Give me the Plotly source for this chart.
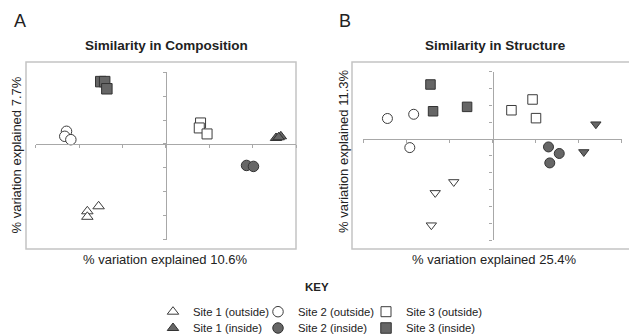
import plotly.graph_objects as go

W, H = 629, 335
FONT = "Liberation Sans, Arial, sans-serif"

# ---------------- data: Panel A (Similarity in Composition) ----------------
a_s1_out_x = [-1.81, -1.55, -1.81]
a_s1_out_y = [-2.82, -2.61, -3.05]
a_s2_out_x = [-2.29, -2.33, -2.19]
a_s2_out_y = [0.53, 0.32, 0.18]
a_s3_out_x = [0.80, 0.77, 0.95]
a_s3_out_y = [0.88, 0.67, 0.42]
a_s1_in_x = [2.54, 2.65, 2.60]
a_s1_in_y = [0.25, 0.32, 0.28]
a_s2_in_x = [1.86, 2.02]
a_s2_in_y = [-0.90, -0.94]
a_s3_in_x = [-1.50, -1.41, -1.36]
a_s3_in_y = [2.61, 2.61, 2.31]

# ---------------- data: Panel B (Similarity in Structure) ----------------
b_s1_out_x = [-0.90, -1.33, -1.42]
b_s1_out_y = [-2.55, -3.20, -5.12]
b_s2_out_x = [-2.44, -1.83, -1.92]
b_s2_out_y = [1.22, 1.47, -0.51]
b_s3_out_x = [0.44, 0.93, 1.01]
b_s3_out_y = [1.71, 2.35, 1.24]
b_s1_in_x = [2.40, 2.12]
b_s1_in_y = [0.88, -0.77]
b_s2_in_x = [1.30, 1.55, 1.33]
b_s2_in_y = [-0.47, -0.86, -1.42]
b_s3_in_x = [-1.44, -1.38, -0.59]
b_s3_in_y = [3.24, 1.65, 1.91]

series_names = ["Site 1 (outside)", "Site 2 (outside)", "Site 3 (outside)",
                "Site 1 (inside)", "Site 2 (inside)", "Site 3 (inside)"]
panel_titles = ["Similarity in Composition", "Similarity in Structure"]
x_titles = ["% variation explained 10.6%", "% variation explained 25.4%"]
y_titles = ["% variation explained 7.7%", "% variation explained 11.3%"]

# axis ranges (in ordination units)
a_xrange, a_yrange = [-3, 3], [-4, 3]
b_xrange, b_yrange = [-3, 3], [-6, 4]

OPEN = dict(color="white", line=dict(color="#3c3c3c", width=1))
FILL = dict(color="#666666", line=dict(color="#333333", width=1))

fig = go.Figure()


def add(x, y, name, symbol, style, xa, ya, size, legend=None):
    fig.add_trace(go.Scatter(
        x=x, y=y, mode="markers", name=name,
        marker=dict(symbol=symbol, size=size, **style),
        xaxis=xa, yaxis=ya, showlegend=legend is not None,
        legend=legend if legend else "legend", cliponaxis=False))


# Panel A traces (these also provide the key entries, one legend per entry)
add(a_s1_out_x, a_s1_out_y, series_names[0], "triangle-up", OPEN, "x", "y", 10, "legend")
add(a_s2_out_x, a_s2_out_y, series_names[1], "circle", OPEN, "x", "y", 10.5, "legend2")
add(a_s3_out_x, a_s3_out_y, series_names[2], "square", OPEN, "x", "y", 10, "legend3")
add(a_s1_in_x, a_s1_in_y, series_names[3], "triangle-up", FILL, "x", "y", 10, "legend4")
add(a_s2_in_x, a_s2_in_y, series_names[4], "circle", FILL, "x", "y", 10.5, "legend5")
add(a_s3_in_x, a_s3_in_y, series_names[5], "square", FILL, "x", "y", 10.5, "legend6")

# Panel B traces
add(b_s1_out_x, b_s1_out_y, series_names[0], "triangle-down", OPEN, "x2", "y2", 9)
add(b_s2_out_x, b_s2_out_y, series_names[1], "circle", OPEN, "x2", "y2", 10)
add(b_s3_out_x, b_s3_out_y, series_names[2], "square", OPEN, "x2", "y2", 9.5)
add(b_s1_in_x, b_s1_in_y, series_names[3], "triangle-down", FILL, "x2", "y2", 9)
add(b_s2_in_x, b_s2_in_y, series_names[4], "circle", FILL, "x2", "y2", 10)
add(b_s3_in_x, b_s3_in_y, series_names[5], "square", FILL, "x2", "y2", 9.5)


def px(v):
    return v / W


def py(v):
    return 1 - v / H


def cross(domain, rng):
    # paper position of the data value 0 inside an axis domain
    return domain[0] + (0 - rng[0]) / (rng[1] - rng[0]) * (domain[1] - domain[0])


a_xdom = [px(35.7), px(296)]
a_ydom = [py(239.5), py(72.3)]
b_xdom = [px(363.3), px(621.7)]
b_ydom = [py(240), py(71.7)]

AX = dict(showline=True, linecolor="#a8a8a8", linewidth=1.3, ticks="outside",
          ticklen=3, tickwidth=1, tickcolor="#a8a8a8", dtick=1, tick0=0,
          showticklabels=False, showgrid=False, zeroline=False, fixedrange=True,
          anchor="free")


def leg(x, y):
    return dict(orientation="h", x=px(x), xanchor="left", y=py(y), yanchor="middle",
                font=dict(size=11.3, family=FONT, color="#222222"),
                bgcolor="rgba(0,0,0,0)", borderwidth=0,
                itemclick=False, itemdoubleclick=False)


# key entry anchor points (left edge of each entry, row centre)
key_cols = [153, 258, 366]
key_rows = [311.7, 328]

fig.update_layout(
    width=W, height=H, margin=dict(l=0, r=0, t=0, b=0, pad=0, autoexpand=False),
    paper_bgcolor="white", plot_bgcolor="rgba(0,0,0,0)",
    font=dict(family=FONT, color="#222222"),
    xaxis=dict(AX, domain=a_xdom, range=a_xrange, position=cross(a_ydom, a_yrange)),
    yaxis=dict(AX, domain=a_ydom, range=a_yrange, position=cross(a_xdom, a_xrange)),
    xaxis2=dict(AX, domain=b_xdom, range=b_xrange, position=cross(b_ydom, b_yrange)),
    yaxis2=dict(AX, domain=b_ydom, range=b_yrange, position=cross(b_xdom, b_xrange)),
    legend=leg(key_cols[0], key_rows[0]),
    legend2=leg(key_cols[1], key_rows[0]),
    legend3=leg(key_cols[2], key_rows[0]),
    legend4=leg(key_cols[0], key_rows[1]),
    legend5=leg(key_cols[1], key_rows[1]),
    legend6=leg(key_cols[2], key_rows[1]),
    showlegend=True,
)

# outer frames
frame = dict(type="rect", xref="paper", yref="paper", layer="below",
             line=dict(color="#c4c4c4", width=1.5), fillcolor="rgba(0,0,0,0)")
fig.add_shape(frame, x0=px(26), x1=px(296), y0=py(249), y1=py(62))
fig.add_shape(frame, x0=px(352), x1=px(640), y0=py(249), y1=py(62))

ann = []
ann.append(dict(text="A", x=px(20), y=py(21.5), font=dict(size=18)))
ann.append(dict(text="B", x=px(345), y=py(21.5), font=dict(size=18)))
ann.append(dict(text="<b>" + panel_titles[0] + "</b>", x=px(166.5), y=py(46), font=dict(size=13.5)))
ann.append(dict(text="<b>" + panel_titles[1] + "</b>", x=px(495), y=py(46), font=dict(size=13.5)))
ann.append(dict(text=x_titles[0], x=px(165), y=py(259.5), font=dict(size=13)))
ann.append(dict(text=x_titles[1], x=px(493.5), y=py(259.5), font=dict(size=13)))
ann.append(dict(text=y_titles[0], x=px(15.5), y=py(155), textangle=-90, font=dict(size=13)))
ann.append(dict(text=y_titles[1], x=px(343.5), y=py(151.5), textangle=-90, font=dict(size=13)))
ann.append(dict(text="<b>KEY</b>", x=px(316.5), y=py(287), font=dict(size=11.5)))
for a in ann:
    a.update(xref="paper", yref="paper", showarrow=False, xanchor="center", yanchor="middle")
    a["font"].update(family=FONT, color="#222222")
    fig.add_annotation(**a)

fig.write_html("out.html", config={"displayModeBar": False},
               post_script="document.body.style.margin='0';")
